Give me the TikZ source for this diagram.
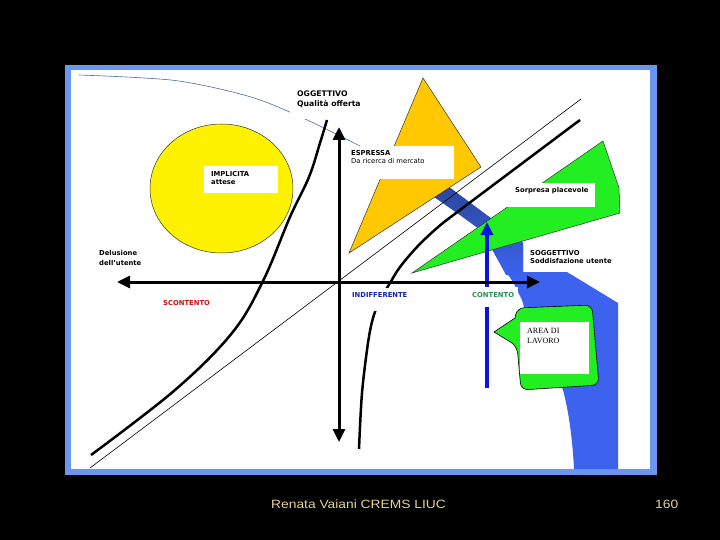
\documentclass[tikz,border=0pt]{standalone}
\usepackage{fontspec}
\setmainfont{DejaVu Sans}
\newfontfamily\footfont{Liberation Sans}
\newfontfamily\serifft{Liberation Serif}
\usetikzlibrary{arrows.meta}
\definecolor{framebl}{HTML}{6A96F0}
\definecolor{trigold}{HTML}{FFC800}
\definecolor{limeg}{HTML}{22EE22}
\definecolor{bandd}{HTML}{2A4699}
\definecolor{bluebr}{HTML}{3C62EE}
\definecolor{arrblue}{HTML}{0A14E0}
\definecolor{redlab}{HTML}{D01010}
\definecolor{bluelab}{HTML}{1020B0}
\definecolor{greenlab}{HTML}{2E8B57}
\definecolor{curveblue}{HTML}{4A6AA8}
\definecolor{footc}{HTML}{E6D296}
\tikzset{
  lbl/.style={font=\fontsize{6.8}{8}\selectfont\bfseries, anchor=base west, inner sep=0pt},
  lblr/.style={font=\fontsize{6.8}{8}\selectfont, anchor=base west, inner sep=0pt},
  biglbl/.style={font=\fontsize{7.7}{9}\selectfont\bfseries, anchor=base west, inner sep=0pt},
  serlbl/.style={font=\serifft\fontsize{8}{9}\selectfont, anchor=base west, inner sep=0pt},
  footlbl/.style={font=\footfont\fontsize{12}{14}\selectfont, text=footc, anchor=base west, inner sep=0pt, xscale=1.15},
  thickc/.style={line width=2.5pt},
  shapeline/.style={draw=black!80, line width=0.5pt},
  axisarrow/.style={line width=3pt, {Triangle[width=12pt,length=13pt]}-{Triangle[width=12pt,length=13pt]}},
  wbox/.style={fill=white}
}
\begin{document}
\begin{tikzpicture}[x=1pt,y=-1pt]
\useasboundingbox (0,0) rectangle (720,540);
\fill[black] (0,0) rectangle (720,540);
% frame
\fill[framebl] (65,65) rectangle (657,475);
\fill[white] (71,70) rectangle (650,469);
% thin blue curve
\draw[curveblue, line width=0.6pt] plot[smooth] coordinates {(79,75) (175,80.5) (251,97) (305,119) (358,145) (372,153)};
% blue region
\fill[bluebr] (430,194) -- (445,184) -- (520,240) -- (523,243) -- (523,272) -- (567,272) -- (618,303) -- (618,469) -- (574,469) .. controls (572,430) and (567,405) .. (563,390) -- (527,318) -- (522,300) -- (513,282) -- (498,260) -- (482,231) -- (460,215) -- cycle;
\shade[top color=bandd, middle color=bandd!70!bluebr, bottom color=bluebr] (430,194) -- (445,184) -- (520,240) -- (523,243) -- (523,275) -- (506,275) -- (498,260) -- (482,231) -- (460,215) -- cycle;
% orange triangle
\filldraw[fill=trigold, shapeline] (423,78) -- (481,167) -- (349,253) -- cycle;
% yellow circle
\filldraw[fill=yellow, shapeline] (221.5,188.5) ellipse [x radius=71.5pt, y radius=64.5pt];
% green triangle
\filldraw[fill=limeg, shapeline] (412,273) -- (603,141) -- (619,188) -- (620,213) -- cycle;
% thin diagonal
\draw[line width=0.6pt] (90,468) -- (581,99);
% thick curves
\draw[thickc] plot[smooth, tension=0.6] coordinates {(91,455) (175,390) (232,333) (263,281) (290,217) (309,177) (320,143) (327,120)};
\draw[thickc] plot[smooth, tension=0.55] coordinates {(359,449) (362,393) (368,343) (373,318) (380,300) (390,283) (400,267) (417,247) (437,228) (460,210) (580,120)};
% blue arrow
\coordinate (ab) at (487,388);
\coordinate (at) at (487,222);
\draw[arrblue, line width=4pt, -{Triangle[width=12pt,length=13pt]}] (ab) -- (at);
% axes
\coordinate (xl) at (117,282);
\coordinate (xr) at (540,282);
\coordinate (yt) at (339,127);
\coordinate (yb) at (339,442);
\draw[axisarrow] (xl) -- (xr);
\draw[axisarrow] (yt) -- (yb);
% white boxes
\fill[wbox] (290,84) rectangle (372,119.5);
\fill[wbox] (347,146) rectangle (454,179);
\fill[wbox] (204,166) rectangle (278,193);
\fill[wbox] (506,183) rectangle (595,207);
\fill[wbox] (346,288) rectangle (420,311);
\fill[wbox] (468,287) rectangle (518,307);
% labels
\node[biglbl] (ogg) at (297,97) {OGGETTIVO};
\node[biglbl] (qual) at (297,107) {Qualità offerta};
\node[lbl] (esp) at (351,155.5) {ESPRESSA};
\node[lblr] (ric) at (351,163.5) {Da ricerca di mercato};
\node[lbl] (imp) at (211,176.7) {IMPLICITA};
\node[lbl] (att) at (211,184.5) {attese};
\node[lbl] (del) at (99,255.3) {Delusione};
\node[lbl] (dell) at (99,265.3) {dell'utente};
\node[lbl, text=redlab] (scon) at (163,305) {SCONTENTO};
\node[lbl, text=bluelab] (indif) at (352,297.5) {INDIFFERENTE};
\node[lbl, text=greenlab] (cont) at (472,297) {CONTENTO};
\node[lbl] (sogg) at (530,255.7) {SOGGETTIVO};
\node[lbl] (sodd) at (530,263.7) {Soddisfazione utente};
\node[lbl] (sorp) at (515,192.7) {Sorpresa placevole};
% callout
\filldraw[fill=limeg, draw=black, line width=0.6pt] (515,318) [rounded corners=7pt] -- (517,308) -- (592,305) -- (599,385) -- (521,390) -- (517,346) [sharp corners] -- (494,332) -- cycle;
\fill[wbox] (520,322) rectangle (589,374);
\node[serlbl] (area) at (527,333.3) {AREA DI};
\node[serlbl] (lav) at (527,343.3) {LAVORO};
% footer
\node[footlbl] (foot) at (271,508.3) {Renata Vaiani CREMS LIUC};
\node[footlbl] (page) at (655,508.3) {160};
\end{tikzpicture}
\end{document}
